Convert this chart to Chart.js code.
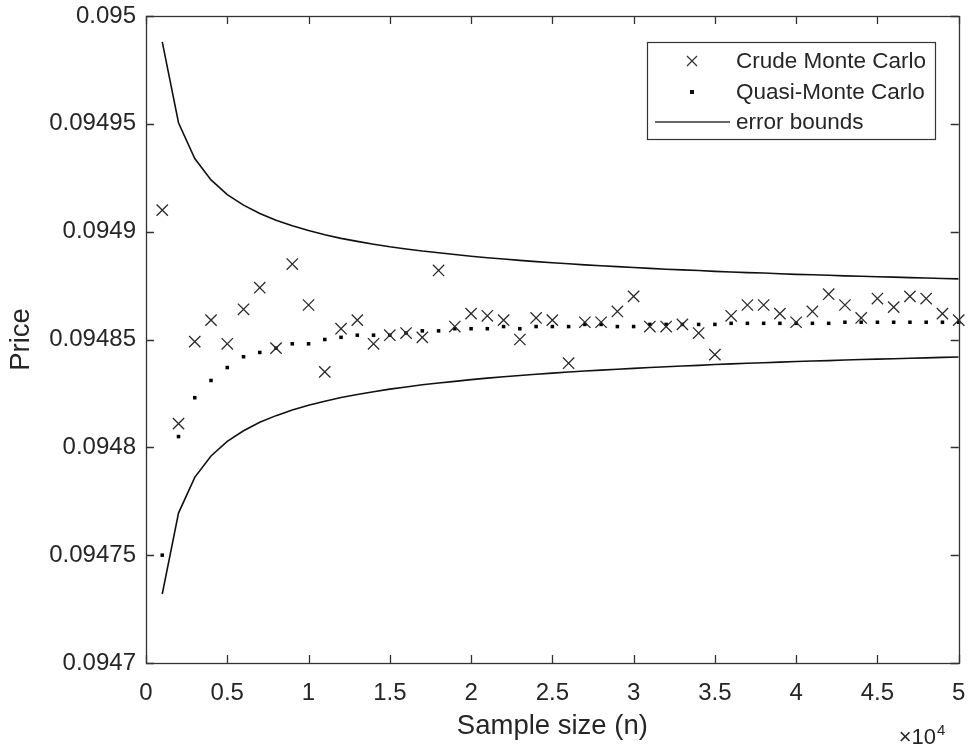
<!DOCTYPE html>
<html>
<head>
<meta charset="utf-8">
<title>Price vs sample size</title>
<script src="https://cdn.jsdelivr.net/npm/chart.js@4.4.0/dist/chart.umd.min.js"></script>
<style>
  html, body { margin: 0; padding: 0; background: #fff; }
  canvas { display: block; }
</style>
</head>
<body>
<canvas id="chart" width="968" height="751"></canvas>
<script>
const sampleSizes = [
    1000, 2000, 3000, 4000, 5000, 6000, 7000, 8000, 9000, 10000,
    11000, 12000, 13000, 14000, 15000, 16000, 17000, 18000, 19000, 20000,
    21000, 22000, 23000, 24000, 25000, 26000, 27000, 28000, 29000, 30000,
    31000, 32000, 33000, 34000, 35000, 36000, 37000, 38000, 39000, 40000,
    41000, 42000, 43000, 44000, 45000, 46000, 47000, 48000, 49000, 50000
];

const crudeMC = [
    0.094910, 0.094811, 0.094849, 0.094859, 0.094848, 0.094864, 0.094874, 0.094846, 0.094885, 0.094866,
    0.094835, 0.094855, 0.094859, 0.094848, 0.094852, 0.094853, 0.094851, 0.094882, 0.094856, 0.094862,
    0.094861, 0.094859, 0.094850, 0.094860, 0.094859, 0.094839, 0.094858, 0.094858, 0.094863, 0.094870,
    0.094856, 0.094856, 0.094857, 0.094853, 0.094843, 0.094861, 0.094866, 0.094866, 0.094862, 0.094858,
    0.094863, 0.094871, 0.094866, 0.094860, 0.094869, 0.094865, 0.094870, 0.094869, 0.094862, 0.094859
];

const quasiMC = [
    0.094750, 0.094805, 0.094823, 0.094831, 0.094837, 0.094842, 0.094844, 0.094846, 0.094848, 0.094848,
    0.094850, 0.094851, 0.094852, 0.094852, 0.094852, 0.094853, 0.094854, 0.094854, 0.094855, 0.094855,
    0.094855, 0.094856, 0.094855, 0.094856, 0.094856, 0.094856, 0.094857, 0.094857, 0.094856, 0.094856,
    0.094857, 0.094857, 0.094857, 0.094857, 0.094857, 0.0948575, 0.0948575, 0.0948575, 0.0948575, 0.0948575,
    0.0948575, 0.0948575, 0.094858, 0.094858, 0.094858, 0.094858, 0.094858, 0.094858, 0.094858, 0.094858
];

const upperBound = [
    0.0949880, 0.0949505, 0.0949339, 0.0949240, 0.0949172, 0.0949123, 0.0949084, 0.0949053, 0.0949027, 0.0949005,
    0.0948986, 0.0948969, 0.0948955, 0.0948942, 0.0948930, 0.0948920, 0.0948910, 0.0948902, 0.0948894, 0.0948886,
    0.0948879, 0.0948873, 0.0948867, 0.0948861, 0.0948856, 0.0948851, 0.0948846, 0.0948842, 0.0948838, 0.0948834,
    0.0948830, 0.0948826, 0.0948823, 0.0948820, 0.0948816, 0.0948813, 0.0948810, 0.0948808, 0.0948805, 0.0948802,
    0.0948800, 0.0948798, 0.0948795, 0.0948793, 0.0948791, 0.0948789, 0.0948787, 0.0948785, 0.0948783, 0.0948781
];

const lowerBound = [
    0.0947320, 0.0947695, 0.0947861, 0.0947960, 0.0948028, 0.0948077, 0.0948116, 0.0948147, 0.0948173, 0.0948195,
    0.0948214, 0.0948231, 0.0948245, 0.0948258, 0.0948270, 0.0948280, 0.0948290, 0.0948298, 0.0948306, 0.0948314,
    0.0948321, 0.0948327, 0.0948333, 0.0948339, 0.0948344, 0.0948349, 0.0948354, 0.0948358, 0.0948362, 0.0948366,
    0.0948370, 0.0948374, 0.0948377, 0.0948380, 0.0948384, 0.0948387, 0.0948390, 0.0948392, 0.0948395, 0.0948398,
    0.0948400, 0.0948402, 0.0948405, 0.0948407, 0.0948409, 0.0948411, 0.0948413, 0.0948415, 0.0948417, 0.0948419
];

const xTickValues = [0, 5000, 10000, 15000, 20000, 25000, 30000, 35000, 40000, 45000, 50000];
const xTickLabels = ['0', '0.5', '1', '1.5', '2', '2.5', '3', '3.5', '4', '4.5', '5'];
const yTickValues = [0.0947, 0.09475, 0.0948, 0.09485, 0.0949, 0.09495, 0.095];
const yTickLabels = ['0.0947', '0.09475', '0.0948', '0.09485', '0.0949', '0.09495', '0.095'];

const FONT = "'Liberation Sans', Arial, Helvetica, sans-serif";
const INK = '#262626';

const toPoints = ys => sampleSizes.map((x, i) => ({ x: x, y: ys[i] }));

// box round the axes, inward ticks on all four sides, legend and the x10^4 multiplier
const matlabAxes = {
    id: 'matlabAxes',
    afterDatasetsDraw(chart) {
        const ctx = chart.ctx;
        const a = chart.chartArea;
        const xs = chart.scales.x, ys = chart.scales.y;
        const tl = 8;
        ctx.save();
        ctx.strokeStyle = '#333';
        ctx.lineWidth = 1.3;
        ctx.beginPath();
        xTickValues.forEach(v => {
            const px = Math.round(xs.getPixelForValue(v)) + 0.5;
            ctx.moveTo(px, a.bottom); ctx.lineTo(px, a.bottom - tl);
            ctx.moveTo(px, a.top); ctx.lineTo(px, a.top + tl);
        });
        yTickValues.forEach(v => {
            const py = Math.round(ys.getPixelForValue(v)) + 0.5;
            ctx.moveTo(a.left, py); ctx.lineTo(a.left + tl, py);
            ctx.moveTo(a.right, py); ctx.lineTo(a.right - tl, py);
        });
        ctx.stroke();
        ctx.strokeRect(Math.round(a.left) + 0.5, Math.round(a.top) + 0.5,
            Math.round(a.right - a.left), Math.round(a.bottom - a.top));

        // legend
        const box = { x: 647, y: 42, w: 288, h: 97 };
        ctx.fillStyle = '#fff';
        ctx.fillRect(box.x, box.y, box.w, box.h);
        ctx.lineWidth = 1.2;
        ctx.strokeRect(box.x + 0.5, box.y + 0.5, box.w, box.h);
        const rows = [61, 92, 122];
        const mx = 692;
        const sets = chart.data.datasets.filter(d => d.inLegend);
        ctx.font = '22.5px ' + FONT;
        ctx.textBaseline = 'middle';
        ctx.textAlign = 'left';
        sets.forEach((d, i) => {
            const y = rows[i];
            ctx.strokeStyle = '#333';
            ctx.fillStyle = '#111';
            if (d.pointStyle === 'crossRot') {
                ctx.lineWidth = 1.2;
                ctx.beginPath();
                ctx.moveTo(mx - 5, y - 5); ctx.lineTo(mx + 5, y + 5);
                ctx.moveTo(mx + 5, y - 5); ctx.lineTo(mx - 5, y + 5);
                ctx.stroke();
            } else if (d.pointStyle === 'rect') {
                ctx.fillRect(mx - 2, y - 2, 4, 4);
            } else {
                ctx.lineWidth = 1.5;
                ctx.beginPath();
                ctx.moveTo(655, y); ctx.lineTo(730, y);
                ctx.stroke();
            }
            ctx.fillStyle = INK;
            ctx.fillText(d.label, 736, y + 1);
        });

        // exponent under the x axis
        ctx.fillStyle = INK;
        ctx.textBaseline = 'alphabetic';
        ctx.textAlign = 'right';
        ctx.font = '22px ' + FONT;
        ctx.fillText('\u00d710', 936, 744);
        ctx.textAlign = 'left';
        ctx.font = '15px ' + FONT;
        ctx.fillText('4', 937, 735);
        ctx.restore();
    }
};

new Chart(document.getElementById('chart'), {
    type: 'scatter',
    data: {
        datasets: [
            {
                label: 'Crude Monte Carlo',
                inLegend: true,
                data: toPoints(crudeMC),
                pointStyle: 'crossRot',
                pointRadius: 8,
                borderColor: '#2a2a2a',
                borderWidth: 1.3,
                backgroundColor: 'transparent',
                showLine: false,
                clip: false
            },
            {
                label: 'Quasi-Monte Carlo',
                inLegend: true,
                data: toPoints(quasiMC),
                pointStyle: 'rect',
                pointRadius: 2.5,
                borderWidth: 0,
                backgroundColor: '#000',
                showLine: false,
                clip: false
            },
            {
                label: 'error bounds',
                inLegend: true,
                data: toPoints(upperBound),
                showLine: true,
                pointRadius: 0,
                borderColor: '#111',
                borderWidth: 1.6,
                fill: false
            },
            {
                label: 'error bounds (lower)',
                data: toPoints(lowerBound),
                showLine: true,
                pointRadius: 0,
                borderColor: '#111',
                borderWidth: 1.6,
                fill: false
            }
        ]
    },
    options: {
        responsive: false,
        animation: false,
        devicePixelRatio: 1,
        layout: { padding: { top: 16, right: 9, left: 0, bottom: 0 } },
        plugins: {
            legend: { display: false },
            tooltip: { enabled: false }
        },
        scales: {
            x: {
                type: 'linear',
                min: 0,
                max: 50000,
                afterFit: s => { s.height = 88; s.paddingLeft = 0; s.paddingRight = 0; },
                afterBuildTicks: s => { s.ticks = xTickValues.map(v => ({ value: v })); },
                grid: { display: false, drawTicks: false },
                border: { display: false },
                ticks: {
                    padding: 16,
                    maxRotation: 0,
                    autoSkip: false,
                    color: INK,
                    font: { family: FONT, size: 24 },
                    callback: (v, i) => xTickLabels[i]
                },
                title: {
                    display: true,
                    text: 'Sample size (n)',
                    color: INK,
                    font: { family: FONT, size: 27.5 },
                    padding: { top: 0, bottom: 8 }
                }
            },
            y: {
                type: 'linear',
                min: 0.0947,
                max: 0.095,
                afterFit: s => { s.width = 146; s.paddingTop = 0; s.paddingBottom = 0; },
                afterBuildTicks: s => { s.ticks = yTickValues.map(v => ({ value: v })); },
                grid: { display: false, drawTicks: false },
                border: { display: false },
                ticks: {
                    padding: 10,
                    autoSkip: false,
                    color: INK,
                    font: { family: FONT, size: 24 },
                    callback: (v, i) => yTickLabels[i]
                },
                title: {
                    display: true,
                    text: 'Price',
                    color: INK,
                    font: { family: FONT, size: 27.5 },
                    padding: { top: 5, bottom: 0 }
                }
            }
        }
    },
    plugins: [matlabAxes]
});
</script>
</body>
</html>
